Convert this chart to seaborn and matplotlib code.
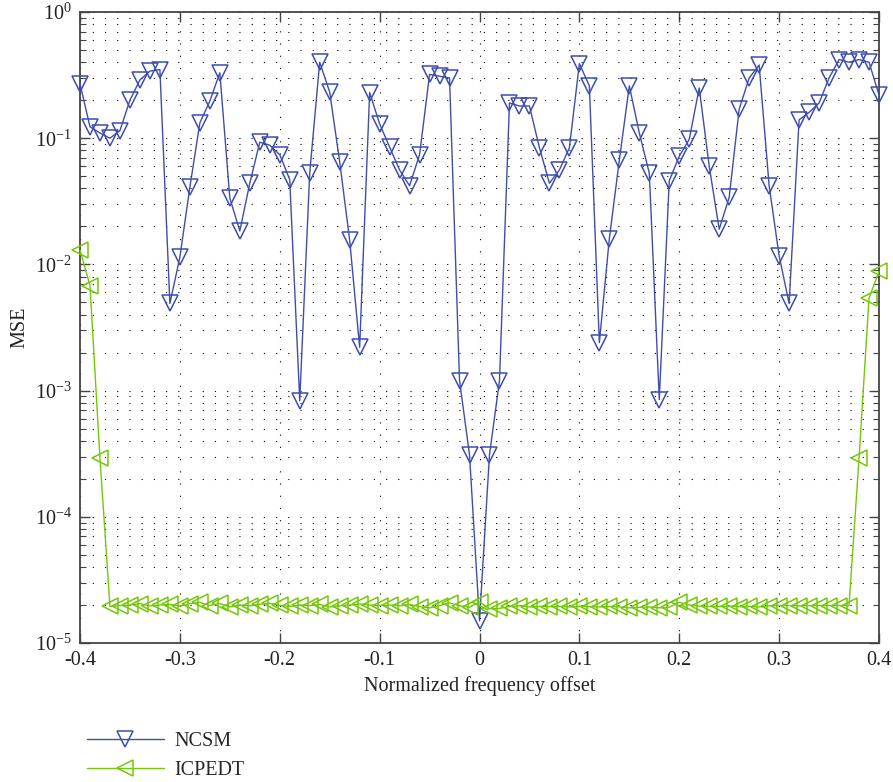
import numpy as np
import pandas as pd
import matplotlib
matplotlib.use("Agg")
import matplotlib.pyplot as plt
import seaborn as sns
from matplotlib.ticker import LogLocator, NullFormatter

# ---- data ----
offsets = np.round(np.arange(-40, 41) / 100.0, 2)

ncsm = [0.27, 0.123, 0.11, 0.10, 0.115, 0.20, 0.29, 0.34, 0.35, 0.0049,
        0.0114, 0.041, 0.132, 0.197, 0.33, 0.0336, 0.0184, 0.044, 0.093, 0.088,
        0.074, 0.047, 0.00083, 0.053, 0.40, 0.232, 0.065, 0.0156, 0.0022, 0.23,
        0.13, 0.085, 0.056, 0.042, 0.074, 0.32, 0.31, 0.30, 0.0012, 0.00031,
        1.5e-5,
        0.00031, 0.0012, 0.19, 0.18, 0.18, 0.084, 0.044, 0.056, 0.084, 0.39,
        0.26, 0.0024, 0.016, 0.067, 0.26, 0.11, 0.053, 0.00085, 0.046, 0.072,
        0.098, 0.25, 0.060, 0.019, 0.034, 0.17, 0.30, 0.38, 0.042, 0.0117,
        0.0049, 0.14, 0.16, 0.19, 0.30, 0.42, 0.40, 0.42, 0.40, 0.22]

icpedt = [0.013, 0.0068, 0.00029, 1.95e-5,
          1.98e-5, 2.0e-5, 2.05e-5, 1.97e-5, 2.0e-5, 2.02e-5, 1.96e-5, 2.05e-5, 2.1e-5, 1.98e-5,
          2.06e-5, 1.93e-5, 2.0e-5, 1.97e-5, 2.03e-5, 2.06e-5, 1.99e-5, 1.95e-5, 2.0e-5, 1.98e-5,
          2.02e-5, 1.93e-5, 1.97e-5, 2.0e-5, 2.04e-5, 2.0e-5, 1.98e-5, 2.0e-5, 1.97e-5, 2.02e-5,
          1.94e-5, 1.9e-5, 1.98e-5, 2.08e-5, 1.97e-5, 1.92e-5, 2.12e-5,
          1.87e-5, 1.88e-5, 1.95e-5, 1.97e-5, 1.93e-5, 1.95e-5, 1.94e-5, 1.95e-5, 1.93e-5, 1.95e-5,
          1.94e-5, 1.93e-5, 1.95e-5, 1.93e-5, 1.9e-5, 1.92e-5, 1.93e-5, 1.9e-5, 1.92e-5, 2.1e-5,
          2.0e-5, 1.96e-5, 1.95e-5, 1.95e-5, 1.96e-5, 1.94e-5, 1.95e-5, 1.93e-5, 1.97e-5, 1.98e-5,
          1.98e-5, 1.97e-5, 1.98e-5, 1.98e-5, 1.98e-5, 1.98e-5, 1.98e-5,
          0.00029, 0.0054, 0.0088]

series_names = ["NCSM", "ICPEDT"]
xtick_vals = [-0.4, -0.3, -0.2, -0.1, 0.0, 0.1, 0.2, 0.3, 0.4]
xtick_labels = ["-0.4", "-0.3", "-0.2", "-0.1", "0", "0.1", "0.2", "0.3", "0.4"]
x_label = "Normalized frequency offset"
y_label = "MSE"

colors = {"NCSM": "#3E4DAE", "ICPEDT": "#74C70A"}
markers = {"NCSM": "v", "ICPEDT": "<"}

df = pd.DataFrame({
    "offset": np.concatenate([offsets, offsets]),
    "mse": np.concatenate([ncsm, icpedt]),
    "method": ["NCSM"] * len(offsets) + ["ICPEDT"] * len(offsets),
})

# ---- style ----
sns.set_style("ticks")
plt.rcParams["font.family"] = ["Liberation Serif", "DejaVu Serif"]
plt.rcParams["mathtext.fontset"] = "custom"
plt.rcParams["mathtext.rm"] = "Liberation Serif"
plt.rcParams["mathtext.it"] = "Liberation Serif:italic"

fig = plt.figure(figsize=(8.93, 7.82), dpi=100)
ax = fig.add_axes([80 / 893, 1 - 643 / 782, 799 / 893, 631 / 782])

for name in series_names:
    sub = df[df["method"] == name]
    sns.lineplot(data=sub, x="offset", y="mse", ax=ax, color=colors[name],
                 marker=markers[name], markersize=12, markerfacecolor="none",
                 markeredgecolor=colors[name], markeredgewidth=1.1,
                 linewidth=1.0, label=name, errorbar=None, clip_on=False,
                 zorder=3)

ax.set_yscale("log")
ax.set_xlim(-0.4, 0.4)
ax.set_ylim(1e-5, 1)
ax.set_xticks(xtick_vals, xtick_labels)
ax.yaxis.set_major_locator(LogLocator(base=10, numticks=10))
ax.yaxis.set_minor_locator(LogLocator(base=10, subs=np.arange(2, 10), numticks=20))
ax.yaxis.set_minor_formatter(NullFormatter())

ax.grid(which="major", axis="both", color="black", linestyle=(0, (1, 10)), linewidth=0.8)
ax.grid(which="minor", axis="y", color="black", linestyle=(0, (1, 10)), linewidth=0.8)
ax.set_axisbelow(True)

for sp in ax.spines.values():
    sp.set_visible(True)
    sp.set_color("#444444")
    sp.set_linewidth(1.3)

ax.tick_params(which="both", direction="in", top=True, right=True, colors="#444444",
               labelcolor="#222222", labelsize=14.5)
ax.tick_params(which="major", length=7, width=1.0, pad=6)
ax.tick_params(which="minor", length=4, width=0.8)

ax.set_xlabel(x_label, fontsize=14.5, color="#222222", labelpad=4)
ax.set_ylabel(y_label, fontsize=14.5, color="#222222", labelpad=4)

ax.get_legend().remove()
handles, labels = ax.get_legend_handles_labels()
fig.legend(handles, labels, loc="upper left", bbox_to_anchor=(87 / 893, 1 - 732 / 782),
           frameon=False, fontsize=14.5, handlelength=3.8, handletextpad=0.55,
           labelspacing=0.5, borderpad=0, borderaxespad=0)

fig.savefig("out.png", dpi=100)
